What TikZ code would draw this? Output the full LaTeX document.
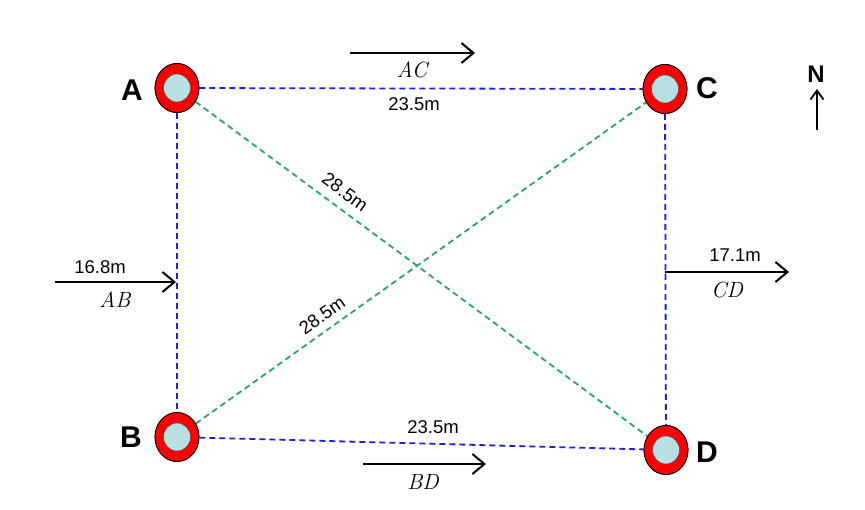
\documentclass[tikz,border=0pt]{standalone}
\usepackage{fontspec}
\setmainfont{Liberation Sans}
\newfontfamily\lmrfont{Latin Modern Roman}
\usetikzlibrary{arrows.meta,shapes.geometric}
\definecolor{ringred}{RGB}{255,0,0}
\definecolor{innerblue}{RGB}{184,224,226}
\definecolor{lineblue}{RGB}{30,30,225}
\definecolor{linegreen}{RGB}{40,165,105}
\tikzset{
  ring/.style={ellipse, draw=black, line width=0.8pt, fill=ringred, minimum width=44pt, minimum height=49pt, inner sep=0pt},
  core/.style={ellipse, draw=black!70, line width=0.5pt, fill=innerblue, minimum width=27pt, minimum height=28pt, inner sep=0pt},
  letter/.style={font=\fontsize{30}{34}\selectfont\bfseries},
  dist/.style={font=\fontsize{18.5}{22}\selectfont, inner sep=0pt},
  ital/.style={font=\lmrfont\itshape\fontsize{22}{26}\selectfont, inner sep=0pt},
  blueline/.style={draw=lineblue, line width=1.8pt, dash pattern=on 6pt off 4pt},
  greenline/.style={draw=linegreen, line width=1.8pt, dash pattern=on 6pt off 4pt},
  dirarrow/.style={draw=black, line width=1.8pt, -{Straight Barb[length=12pt,width=20pt,line width=2pt]}},
}
\begin{document}
\begin{tikzpicture}[x=1pt,y=-1pt]
\useasboundingbox (0,0) rectangle (865,509);
% stations
\node[ring] (A) at (177,88) {};
\node[ring] (B) at (177,437) {};
\node[ring] (C) at (665,89) {};
\node[ring] (D) at (666,450) {};
% connectors
\draw[blueline] (A) -- (C);
\draw[blueline] (A) -- (B);
\draw[blueline] (C) -- (D);
\draw[blueline] (B) -- (D);
\draw[greenline] (A) -- (D);
\draw[greenline] (B) -- (C);
% redraw rings on top
\node[ring] at (A) {};
\node[ring] at (B) {};
\node[ring] at (C) {};
\node[ring] at (D) {};
\node[core] (Ai) at (A) {};
\node[core] (Bi) at (B) {};
\node[core] (Ci) at (C) {};
\node[core] (Di) at (D) {};
% station letters
\node[letter] (lA) at (132,90) {A};
\node[letter] (lB) at (131,437) {B};
\node[letter] (lC) at (707,88) {C};
\node[letter] (lD) at (707,452) {D};
% distances
\node[dist] (dAC) at (414,104) {23.5m};
\node[dist] (dBD) at (433,427) {23.5m};
\node[dist] (dAB) at (100,267) {16.8m};
\node[dist] (dCD) at (735,255) {17.1m};
\node[dist, rotate=-36.4] (dAD) at (345,192) {28.5m};
\node[dist, rotate=35.5] (dBC) at (322,315) {28.5m};
% direction arrows
\coordinate (acS) at (350,53);
\coordinate (acE) at (475,53);
\draw[dirarrow] (acS) -- (acE);
\node[ital] (tAC) at (412,70) {AC};
\coordinate (bdS) at (363,464);
\coordinate (bdE) at (486,464);
\draw[dirarrow] (bdS) -- (bdE);
\node[ital] (tBD) at (423,482) {BD};
\coordinate (abS) at (55,282);
\coordinate (abE) at (176,282);
\draw[dirarrow] (abS) -- (abE);
\node[ital] (tAB) at (115,300) {AB};
\coordinate (cdS) at (665,272);
\coordinate (cdE) at (789,272);
\draw[dirarrow] (cdS) -- (cdE);
\node[ital] (tCD) at (727,290) {CD};
% north
\node[font=\fontsize{24}{28}\selectfont\bfseries, inner sep=0pt] (N) at (816,74) {N};
\coordinate (nS) at (817,130);
\coordinate (nE) at (817,89);
\draw[draw=black, line width=1.8pt, -{Straight Barb[length=9pt,width=13pt,line width=1.8pt]}] (nS) -- (nE);
\end{tikzpicture}
\end{document}
